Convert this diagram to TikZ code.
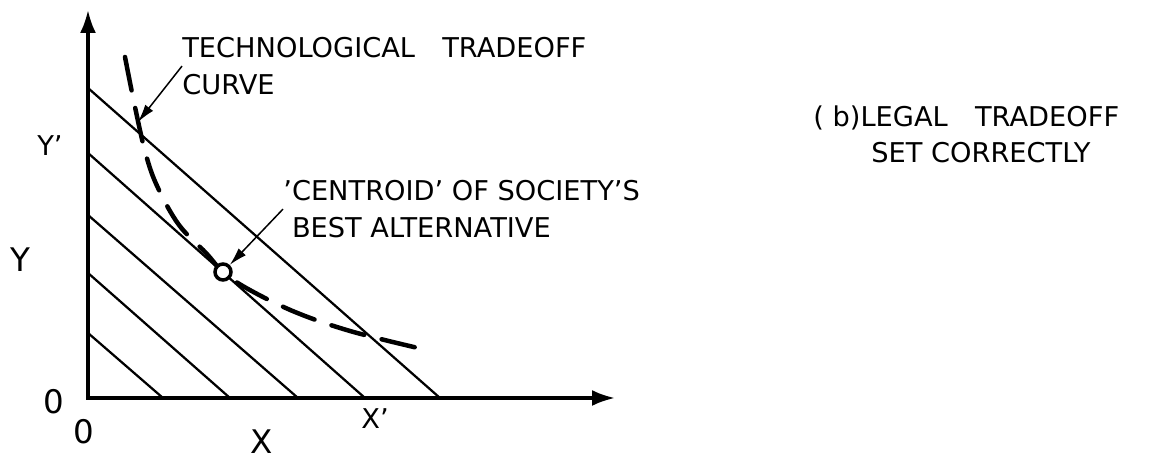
\documentclass[tikz,border=0pt]{standalone}
\usepackage{fontspec}
\setmainfont{DejaVu Sans}
\usetikzlibrary{arrows.meta}

\tikzset{
  lbl/.style={inner sep=0pt, font=\fontsize{15.5}{21}\selectfont},
  axlbl/.style={inner sep=0pt, font=\fontsize{18.5}{23}\selectfont},
  axis/.style={line width=0.66mm, {Latex[length=4.6mm,width=3.2mm]}-{Latex[length=4.6mm,width=3.2mm]}},
  budget/.style={line width=0.45mm},
  tradeoff/.style={line width=0.9mm, line cap=round, dash pattern=on 6.8mm off 3.6mm},
  leader/.style={line width=0.3mm, -{Latex[length=3.6mm,width=2mm]}},
}

\begin{document}
\begin{tikzpicture}[x=0.2mm, y=0.2mm]
  \useasboundingbox (-88,-62) rectangle (1075,398);

  % axes
  \coordinate (O) at (0,0);
  \coordinate (ytop) at (0,388);
  \coordinate (xend) at (527,0);
  \draw[axis] (ytop) -- (O) -- (xend);

  % legal tradeoff lines
  \draw[budget] (0,310) -- (352,0);
  \draw[budget] (0,245) -- (277,0);
  \draw[budget] (0,183) -- (210,0);
  \draw[budget] (0,125) -- (142,0);
  \draw[budget] (0,65) -- (75,0);

  % technological tradeoff curve
  \draw[tradeoff] plot[smooth, tension=0.6] coordinates {(37,341) (47,291) (58,243) (70,210) (91,173) (118,145) (135,126) (160,109) (207,86) (262,67) (330,50)};
  \coordinate (hit) at (50,276);
  \node[circle, draw, line width=0.7mm, fill=white, minimum size=3.2mm, inner sep=0pt] (best) at (135,126) {};

  % labels
  \node[lbl, anchor=north west, align=left] (tech) at (94,361) {TECHNOLOGICAL\quad TRADEOFF\\CURVE};
  \node[lbl, anchor=north west, align=left] (centroid) at (195,218) {'CENTROID' OF SOCIETY'S\\\phantom{'}BEST ALTERNATIVE};
  \node[lbl, anchor=north west, align=left] (legal) at (725,293) {( b)LEGAL\quad TRADEOFF\\\hspace*{11.6mm}SET CORRECTLY};
  \draw[leader] (tech.west) -- (hit);
  \draw[leader] (centroid.west) -- (best);

  \node[lbl] (yprime) at (-38,252) {Y'};
  \node[axlbl] (ylab) at (-68,138) {Y};
  \node[axlbl] (yzero) at (-34,-4) {0};
  \node[axlbl] (xzero) at (-4,-34) {0};
  \node[axlbl] (xlab) at (174,-44) {X};
  \node[lbl] (xprime) at (287,-21) {X'};
\end{tikzpicture}
\end{document}
